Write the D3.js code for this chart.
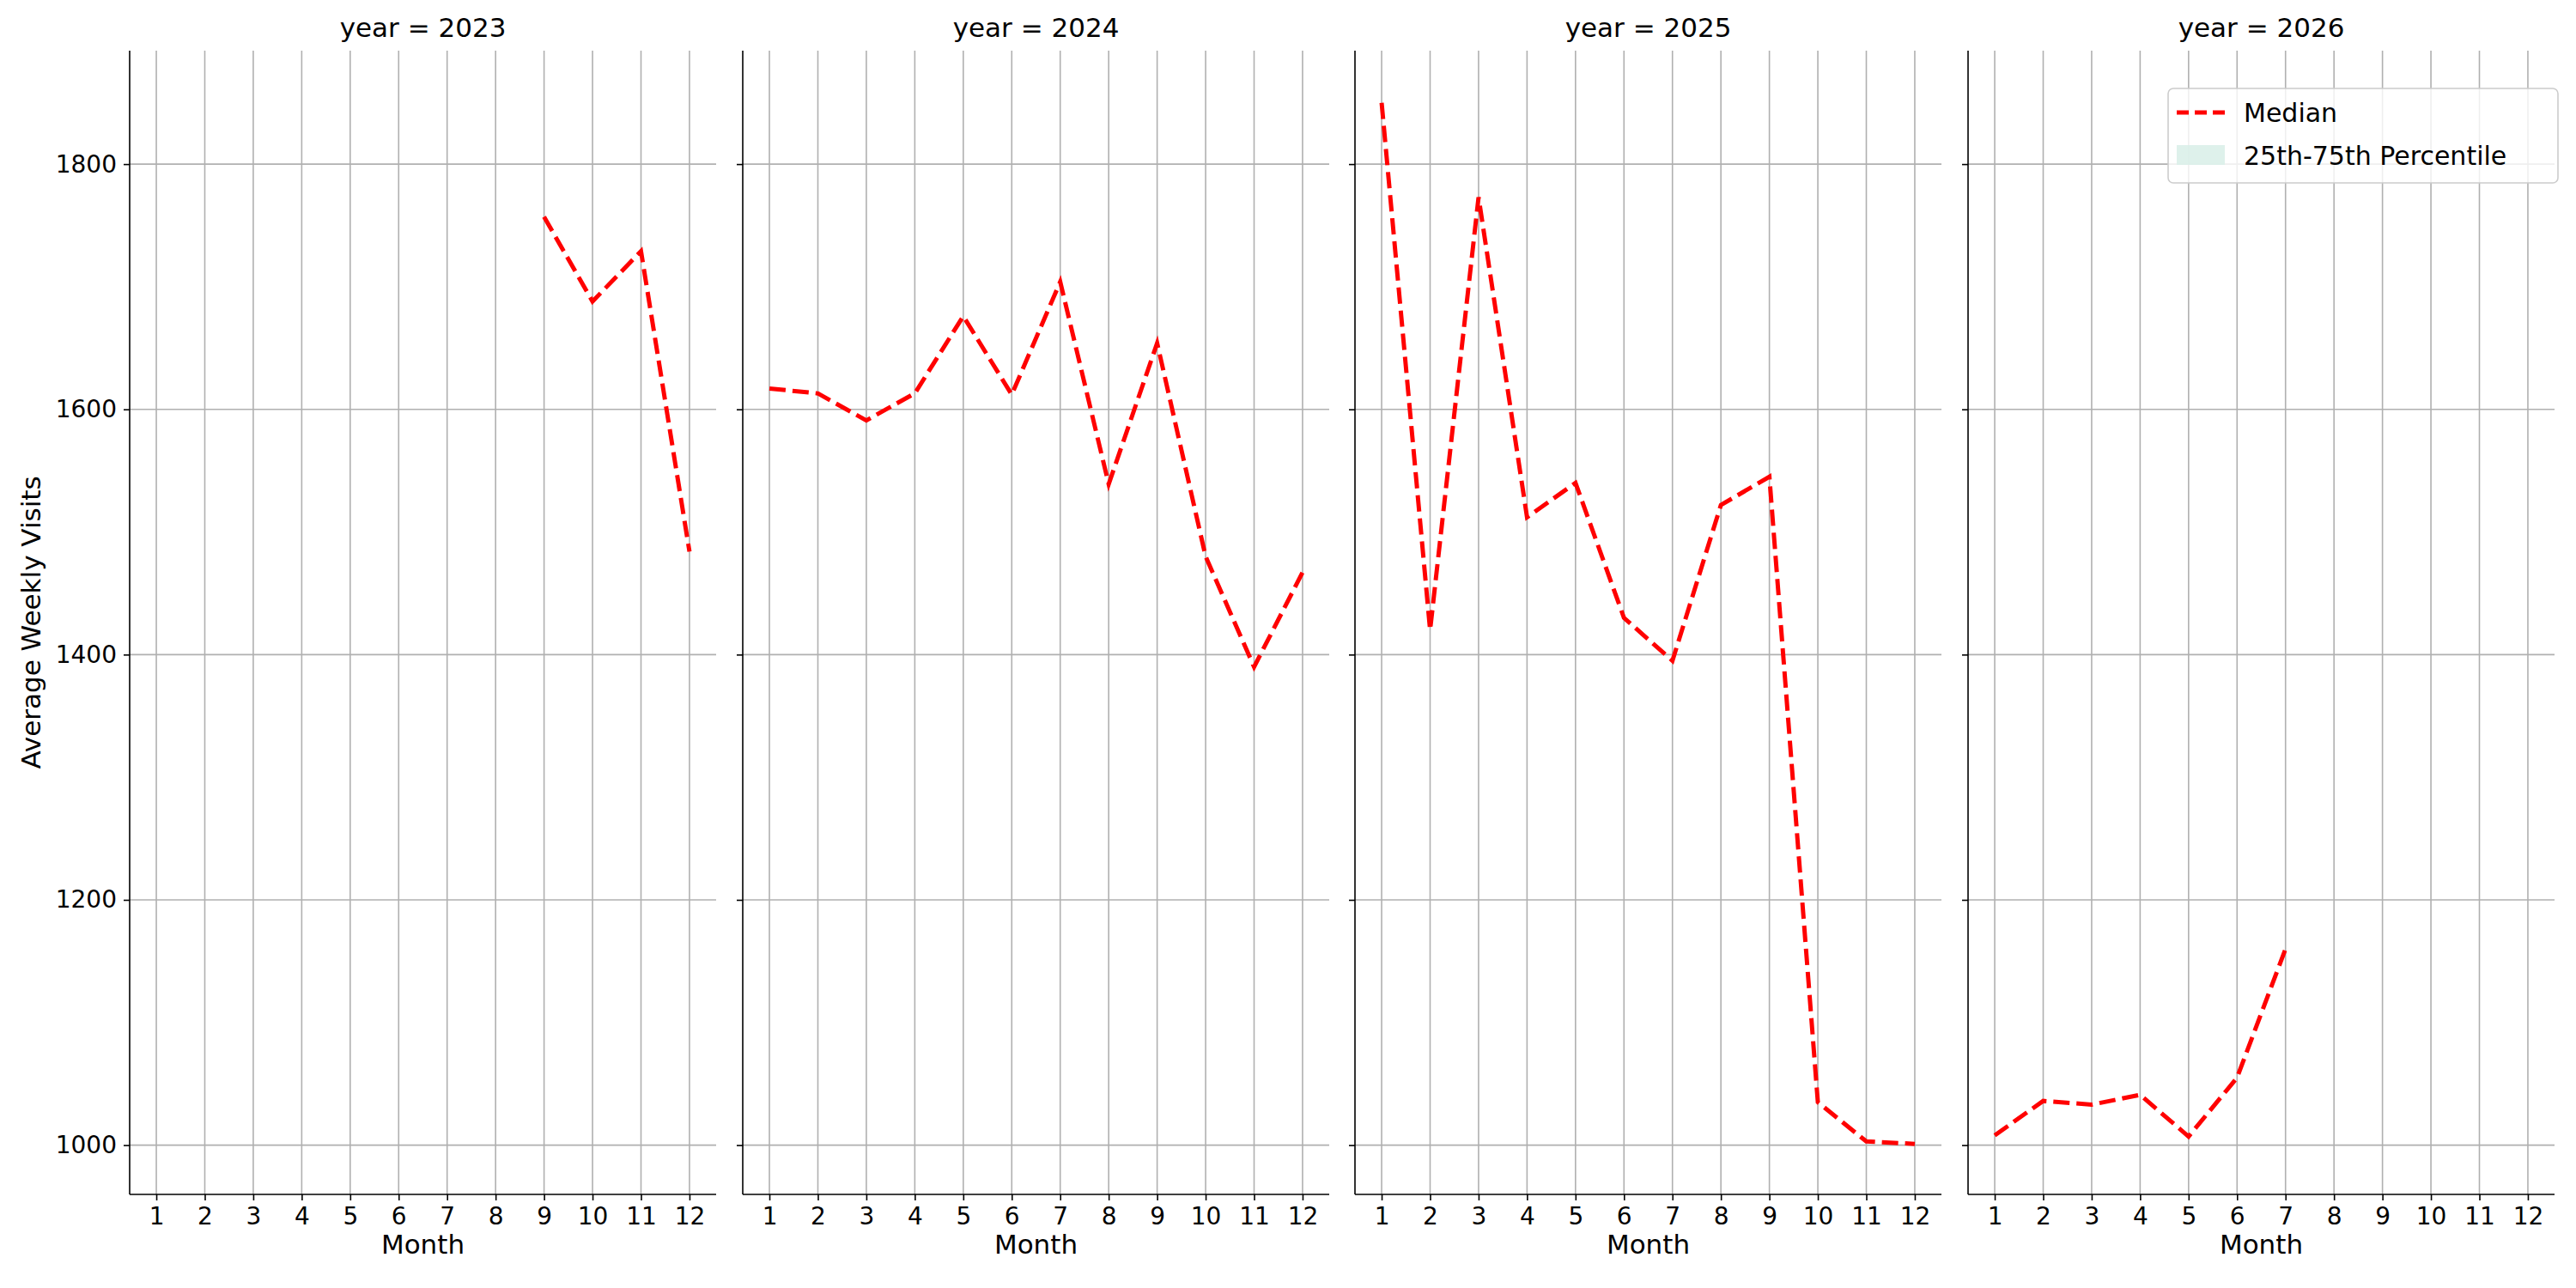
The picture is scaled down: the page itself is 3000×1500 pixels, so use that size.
<!DOCTYPE html>
<html><head><meta charset="utf-8">
<script src="https://cdn.jsdelivr.net/npm/d3@7"></script>
<style>body{margin:0;background:#fff}svg{font-family:"DejaVu Sans",sans-serif}</style>
</head><body><svg id="chart" width="3000" height="1500"></svg>
<script>
// data
const years = [2023, 2024, 2025, 2026];
const months = [1,2,3,4,5,6,7,8,9,10,11,12];
const yTicks = [1000, 1200, 1400, 1600, 1800];
const median2023 = [null,null,null,null,null,null,null,null,1757,1688,1729,1484];
const median2024 = [1617,1613,1591,1613,1676,1612,1704,1539,1654,1480,1390,1467];
const median2025 = [1850,1420,1773,1512,1540,1430,1395,1522,1545,1035,1003,1001];
const median2026 = [1008,1036,1033,1041,1007,1055,1160,null,null,null,null,null];
const medians = [median2023, median2024, median2025, median2026];

const svg = d3.select("#chart");
const plotTop = 59, plotBottom = 1391, pw = 683;
const lefts = [151, 865, 1578, 2292];

const y = d3.scaleLinear().domain([959.8, 1892.5]).range([plotBottom, plotTop]);

years.forEach(function(yr, i) {
  const x = d3.scaleLinear().domain([0.45, 12.55]).range([0, pw]);
  const g = svg.append("g").attr("transform", "translate(" + lefts[i] + ",0)");

  // grid
  g.selectAll(".vg").data(months).enter().append("line")
    .attr("x1", d => x(d)).attr("x2", d => x(d)).attr("y1", plotTop).attr("y2", plotBottom)
    .attr("stroke", "#b0b0b0").attr("stroke-width", 1.6);
  g.selectAll(".hg").data(yTicks).enter().append("line")
    .attr("x1", 0).attr("x2", pw).attr("y1", d => y(d)).attr("y2", d => y(d))
    .attr("stroke", "#b0b0b0").attr("stroke-width", 1.6);

  // axes
  const xa = g.append("g").attr("transform", "translate(0," + plotBottom + ")")
    .call(d3.axisBottom(x).tickValues(months).tickSize(7).tickPadding(8));
  const ya = g.append("g")
    .call(d3.axisLeft(y).tickValues(yTicks).tickSize(7).tickPadding(8)
      .tickFormat(i == 0 ? d3.format("d") : ""));
  [xa, ya].forEach(a => {
    a.select(".domain").attr("stroke", "#000").attr("stroke-width", 1.6);
    a.selectAll(".tick line").attr("stroke", "#000").attr("stroke-width", 1.6);
    a.selectAll("text").attr("font-size", 28).attr("fill", "#000").attr("font-family", "DejaVu Sans");
  });
  xa.select(".domain").attr("d", "M0,0H" + pw);
  ya.select(".domain").attr("d", "M0," + plotTop + "V" + plotBottom);

  g.append("text").attr("x", pw / 2).attr("y", 1460).attr("text-anchor", "middle")
    .attr("font-size", 31).text("Month");
  g.append("text").attr("x", pw / 2).attr("y", 43).attr("text-anchor", "middle")
    .attr("font-size", 31).text("year = " + yr);

  const line = d3.line().defined(d => d.v != null).x(d => x(d.m)).y(d => y(d.v));
  g.append("path")
    .datum(months.map((m, k) => ({m: m, v: medians[i][k]})))
    .attr("d", line).attr("fill", "none").attr("stroke", "#ff0000")
    .attr("stroke-width", 5).attr("stroke-dasharray", "19,8");
});

svg.append("text").attr("transform", "translate(47,725) rotate(-90)")
  .attr("text-anchor", "middle").attr("font-size", 31).text("Average Weekly Visits");

// legend
const lg = svg.append("g").attr("transform", "translate(2525,103)");
lg.append("rect").attr("width", 454).attr("height", 110).attr("rx", 6)
  .attr("fill", "#fff").attr("fill-opacity", 0.8).attr("stroke", "#cccccc").attr("stroke-width", 1.6);
lg.append("line").attr("x1", 10).attr("x2", 66).attr("y1", 28).attr("y2", 28)
  .attr("stroke", "#ff0000").attr("stroke-width", 5).attr("stroke-dasharray", "14,7");
lg.append("rect").attr("x", 10).attr("y", 66).attr("width", 56).attr("height", 23)
  .attr("fill", "#d8efe8").attr("opacity", 0.85);
lg.append("text").attr("x", 88).attr("y", 39).attr("font-size", 30).text("Median");
lg.append("text").attr("x", 88).attr("y", 89).attr("font-size", 30).text("25th-75th Percentile");
</script></body></html>
